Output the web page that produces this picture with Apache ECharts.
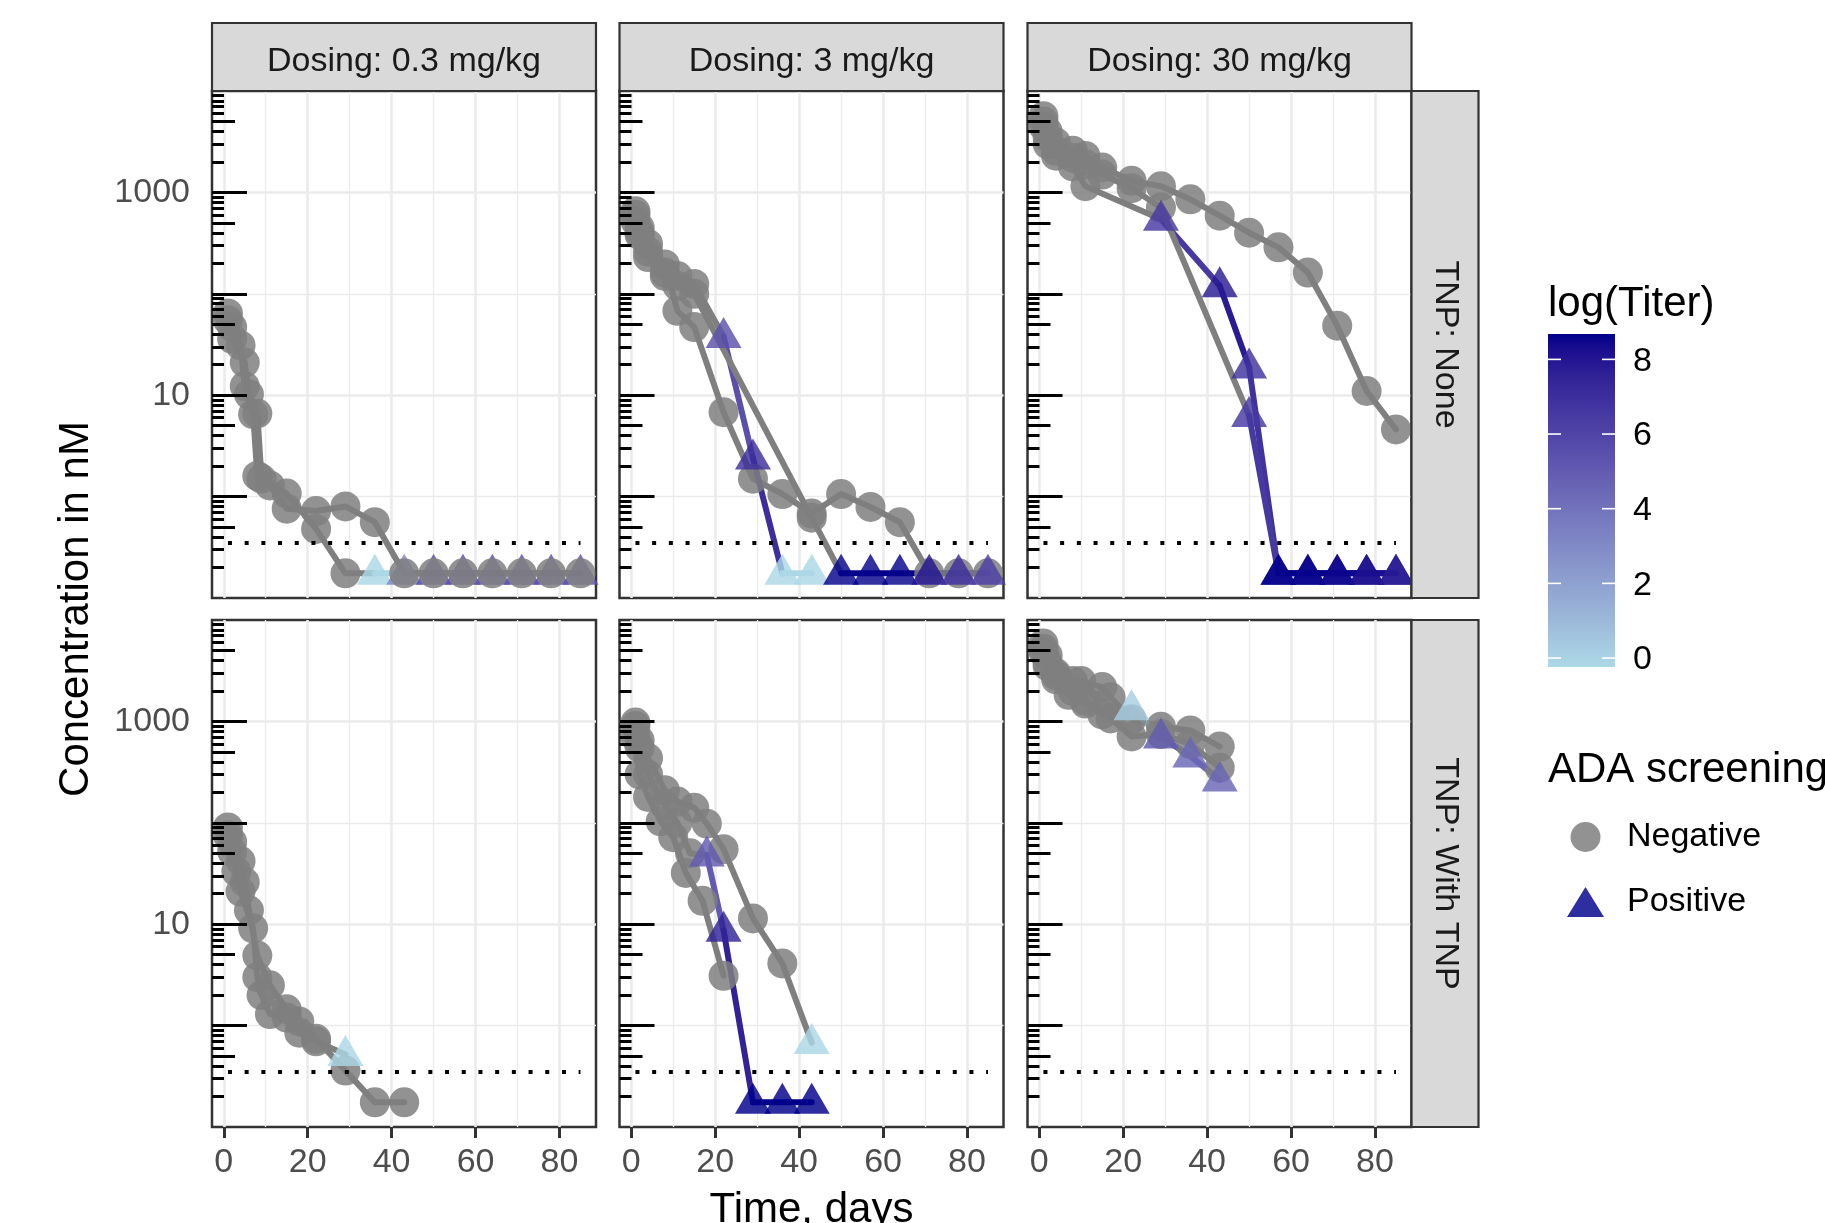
<!DOCTYPE html>
<html><head><meta charset="utf-8">
<script src="https://cdn.jsdelivr.net/npm/echarts@6/dist/echarts.min.js"></script>
<style>html,body{margin:0;padding:0;background:#fff}#c{width:1825px;height:1223px}</style>
</head><body><div id="c"></div>
<script>
// ---------------- data ----------------
const DOSE_LABELS = ['Dosing: 0.3 mg/kg', 'Dosing: 3 mg/kg', 'Dosing: 30 mg/kg'];
const TNP_LABELS = ['TNP: None', 'TNP: With TNP'];
const X_TICKS = [0, 20, 40, 60, 80];
const X_MINOR = [10, 30, 50, 70];
const Y_LABEL_TICKS = [10, 1000];
const Y_MINOR = [1, 100];
const TITER_TICKS = [0, 2, 4, 6, 8];
const LLOQ = 0.35;
const B = 0.175;       // below-LLOQ samples plotted at LLOQ/2
const n = null;        // no titer -> ADA negative

// Dosing 0.3 mg/kg, TNP: None
const a1_day = [1, 2, 4, 5, 7, 8, 15, 22, 29, 36, 43, 50, 57, 64, 71, 78, 85];
const a1_conc = [64, 47, 31, 12.3, 6.5, 1.6, 1.07, 0.48, B, B, B, B, B, B, B, B, B];
const a1_titer = [n, n, n, n, n, n, n, n, n, -0.2, 3.0, 5.5, 5.5, 5.5, 5.5, 5.5, 5.5];
const a2_day = [1, 2, 5, 6, 8, 9, 11, 15, 22, 29, 36, 43, 50, 57, 64, 71, 78, 85];
const a2_conc = [55, 36, 21, 10.2, 6.6, 1.5, 1.29, 0.76, 0.72, 0.80, 0.56, B, B, B, B, B, B, B];
const a2_titer = null;

// Dosing 3 mg/kg, TNP: None
const b1_day = [1, 2, 4, 8, 11, 15, 22, 29, 36, 43, 50, 57, 64, 71, 78, 85];
const b1_conc = [650, 450, 310, 195, 68, 47, 6.8, 1.5, 1.06, 0.68, 1.06, 0.79, 0.56, B, B, B];
const b1_titer = null;
const b2_day = [1, 2, 4, 8, 11, 15, 22, 29, 36, 43];
const b2_conc = [600, 400, 260, 162, 150, 125, 38, 2.4, B, B];
const b2_titer = [n, n, n, n, n, n, 5.5, 7.0, -0.2, -0.2];
const b3_day = [1, 2, 4, 8, 11, 15, 43, 50, 57, 64, 71, 78, 85];
const b3_conc = [520, 380, 230, 150, 120, 100, 0.62, B, B, B, B, B, B];
const b3_titer = [n, n, n, n, n, n, n, 8.6, 8.6, 8.6, 8.0, 7.0, 6.2];

// Dosing 30 mg/kg, TNP: None
const c1_day = [1, 2, 4, 8, 11, 15, 22, 29, 36, 43, 50, 57, 64, 71, 78, 85];
const c1_conc = [5650, 4000, 3100, 2570, 2290, 1760, 1300, 1150, 855, 590, 400, 287, 162, 48.5, 11, 4.6];
const c1_titer = null;
const c2_day = [1, 2, 4, 8, 11, 29, 43, 50, 57, 64, 71, 78, 85];
const c2_conc = [4500, 3000, 2300, 1800, 1150, 545, 120, 19, B, B, B, B, B];
const c2_titer = [n, n, n, n, n, 6.5, 7.8, 6.8, 8.6, 8.6, 8.5, 8.3, 8.0];
const c3_day = [1, 2, 4, 8, 11, 15, 22, 29, 50, 57, 64, 71, 78, 85];
const c3_conc = [5000, 3500, 2570, 2200, 1900, 1500, 1100, 710, 6.3, B, B, B, B, B];
const c3_titer = [n, n, n, n, n, n, n, n, 6.5, 8.6, 8.6, 8.5, 8.2, 7.8];

// Dosing 0.3 mg/kg, TNP: With TNP
const d1_day = [1, 2, 4, 5, 6, 8, 11, 15, 18, 22, 29, 36, 43];
const d1_conc = [90, 65, 42, 26, 13.7, 4.9, 2.5, 1.45, 1.1, 0.74, 0.36, B, B];
const d1_titer = null;
const d2_day = [1, 2, 3, 4, 7, 8, 9, 11, 15, 18, 22, 29];
const d2_conc = [75, 52, 33, 21, 9.1, 3.0, 2.0, 1.3, 1.2, 0.85, 0.7, 0.52];
const d2_titer = [n, n, n, n, n, n, n, n, n, n, n, -0.2];

// Dosing 3 mg/kg, TNP: With TNP
const e1_day = [1, 2, 4, 8, 11, 14, 18, 22, 29, 36, 43];
const e1_conc = [900, 550, 300, 150, 100, 50, 48, 8.7, B, B, B];
const e1_titer = [n, n, n, n, n, n, 5.0, 7.5, 8.7, 8.7, 8.7];
const e2_day = [1, 2, 4, 8, 11, 15, 18, 22, 29, 36, 43];
const e2_conc = [975, 650, 435, 210, 162, 141, 98, 55, 11.4, 4.1, 0.68];
const e2_titer = [n, n, n, n, n, n, n, n, n, n, -0.2];
const e3_day = [1, 2, 4, 7, 10, 13, 17, 22];
const e3_conc = [700, 300, 180, 103, 72, 32, 17, 3.1];
const e3_titer = null;

// Dosing 30 mg/kg, TNP: With TNP
const f1_day = [1, 2, 4, 8, 10, 15, 17, 22, 29, 36, 43];
const f1_conc = [5850, 4500, 3000, 2500, 2500, 2180, 1730, 1050, 885, 815, 565];
const f1_titer = null;
const f2_day = [1, 2, 4, 7, 11, 15, 22, 29, 36, 43];
const f2_conc = [4800, 3500, 2850, 1830, 1500, 1170, 1330, 700, 455, 265];
const f2_titer = [n, n, n, n, n, n, 0.2, 5.0, 4.5, 4.5];
const f3_day = [1, 2, 4, 8, 11, 17, 22, 29, 36, 43];
const f3_conc = [5200, 3800, 2600, 2000, 1600, 1070, 710, 750, 600, 350];
const f3_titer = null;

const PANELS = [
  [[a1_day, a1_conc, a1_titer], [a2_day, a2_conc, a2_titer]],
  [[b1_day, b1_conc, b1_titer], [b2_day, b2_conc, b2_titer], [b3_day, b3_conc, b3_titer]],
  [[c1_day, c1_conc, c1_titer], [c2_day, c2_conc, c2_titer], [c3_day, c3_conc, c3_titer]],
  [[d1_day, d1_conc, d1_titer], [d2_day, d2_conc, d2_titer]],
  [[e1_day, e1_conc, e1_titer], [e2_day, e2_conc, e2_titer], [e3_day, e3_conc, e3_titer]],
  [[f1_day, f1_conc, f1_titer], [f2_day, f2_conc, f2_titer], [f3_day, f3_conc, f3_titer]]
];

// ---------------- styling / layout ----------------
const FONT = "'Liberation Sans', Arial, Helvetica, sans-serif";
const LEFTS = [212, 619.5, 1027.5], W = 384, TOPS = [91, 620], H = 507;
const XMIN = -2.8, XMAX = 88.7, YMIN = 0.1, YMAX = 10000;
const T_MIN = -0.24, T_MAX = 8.68;
const GRAY = '#7f7f7f';
const LOW = '#ADD8E6', HIGH = '#00008B';

// colour scale (Lab interpolation like ggplot2)
function hex2rgb(h) { return [1, 3, 5].map(i => parseInt(h.slice(i, i + 2), 16)); }
function s2l(c) { c /= 255; return c <= 0.04045 ? c / 12.92 : Math.pow((c + 0.055) / 1.055, 2.4); }
function l2s(c) { c = c <= 0.0031308 ? 12.92 * c : 1.055 * Math.pow(c, 1 / 2.4) - 0.055; return Math.round(Math.max(0, Math.min(1, c)) * 255); }
function rgb2lab(rgb) {
  const [r, g, b] = rgb.map(s2l);
  const X = (0.4124 * r + 0.3576 * g + 0.1805 * b) / 0.95047, Y = 0.2126 * r + 0.7152 * g + 0.0722 * b, Z = (0.0193 * r + 0.1192 * g + 0.9505 * b) / 1.08883;
  const f = t => t > 0.008856 ? Math.cbrt(t) : 7.787 * t + 16 / 116;
  const fx = f(X), fy = f(Y), fz = f(Z);
  return [116 * fy - 16, 500 * (fx - fy), 200 * (fy - fz)];
}
function lab2hex(lab) {
  const [L, a, b] = lab; const fy = (L + 16) / 116, fx = fy + a / 500, fz = fy - b / 200;
  const fi = t => t * t * t > 0.008856 ? t * t * t : (t - 16 / 116) / 7.787;
  const X = fi(fx) * 0.95047, Y = fi(fy), Z = fi(fz) * 1.08883;
  const r = 3.2406 * X - 1.5372 * Y - 0.4986 * Z, g = -0.9689 * X + 1.8758 * Y + 0.0415 * Z, bb = 0.0557 * X - 0.2040 * Y + 1.0570 * Z;
  return '#' + [r, g, bb].map(v => l2s(v).toString(16).padStart(2, '0')).join('');
}
const LAB_LO = rgb2lab(hex2rgb(LOW)), LAB_HI = rgb2lab(hex2rgb(HIGH));
function titerColor(t) {
  const f = Math.max(0, Math.min(1, (t - T_MIN) / (T_MAX - T_MIN)));
  return lab2hex(LAB_LO.map((v, i) => v + (LAB_HI[i] - v) * f));
}

function logtickValues(mults) {
  const out = [];
  for (let e = -1; e <= 3; e++) for (const m of mults) {
    const v = +(m * Math.pow(10, e)).toPrecision(6);
    if (v > YMIN && v < YMAX) out.push(v);
  }
  return out;
}
const LT_DECADE = logtickValues([1]);
const LT_FIVE = logtickValues([5]);
const LT_OTHER = logtickValues([2, 3, 4, 6, 7, 8, 9]);

const grids = [], xAxes = [], yAxes = [], series = [];
PANELS.forEach((subjects, k) => {
  const r = Math.floor(k / 3), c = k % 3;
  grids.push({ left: LEFTS[c], top: TOPS[r], width: W, height: H, show: true, backgroundColor: '#fff', borderColor: '#333', borderWidth: 2.5, containLabel: false, outerBoundsMode: 'none' });
  const xi = xAxes.length;
  xAxes.push({
    type: 'value', gridIndex: k, position: 'bottom', min: XMIN, max: XMAX, axisLine: { show: false },
    axisTick: { show: r === 1, customValues: X_TICKS, length: 11, lineStyle: { color: '#333', width: 3 } },
    axisLabel: { show: r === 1, customValues: X_TICKS, margin: 19, fontSize: 34, color: '#4d4d4d', fontFamily: FONT },
    splitLine: { show: true, lineStyle: { color: '#ebebeb', width: 2.6 } },
    name: (r === 1 && c === 1) ? 'Time, days' : '', nameLocation: 'middle', nameGap: 62, nameMoveOverlap: false,
    nameTextStyle: { fontSize: 42, color: '#000', fontFamily: FONT }
  });
  xAxes.push({
    type: 'value', gridIndex: k, position: 'bottom', min: XMIN, max: XMAX, axisLine: { show: false },
    axisTick: { show: false, customValues: X_MINOR }, axisLabel: { show: false, customValues: X_MINOR },
    splitLine: { show: true, lineStyle: { color: '#ebebeb', width: 1.3 } }
  });
  const yi = yAxes.length;
  const yb = () => ({ type: 'log', logBase: 10, gridIndex: k, position: 'left', offset: 0, min: YMIN, max: YMAX, axisLine: { show: false } });
  yAxes.push(Object.assign(yb(), {
    axisTick: { show: c === 0, customValues: Y_LABEL_TICKS, length: 11, lineStyle: { color: '#333', width: 3 } },
    axisLabel: { show: c === 0, customValues: Y_LABEL_TICKS, formatter: v => String(v), margin: 22, padding: [8, 0, 0, 0], fontSize: 34, color: '#4d4d4d', fontFamily: FONT },
    splitLine: { show: true, lineStyle: { color: '#ebebeb', width: 2.6 } }
  }));
  yAxes.push(Object.assign(yb(), {
    axisTick: { show: false, customValues: Y_MINOR }, axisLabel: { show: false, customValues: Y_MINOR },
    splitLine: { show: true, lineStyle: { color: '#ebebeb', width: 1.3 } }
  }));
  [[LT_DECADE, 35], [LT_FIVE, 23], [LT_OTHER, 12]].forEach(([vals, len]) => yAxes.push(Object.assign(yb(), {
    z: 10,
    axisTick: { show: true, inside: true, length: len, customValues: vals, lineStyle: { color: '#000', width: 3 } },
    axisLabel: { show: false, customValues: vals }, splitLine: { show: false }
  })));

  const linesData = [], negData = [], posData = [];
  subjects.forEach(([days, conc, titer]) => {
    const col = i => (titer && titer[i] != null) ? titerColor(titer[i]) : GRAY;
    let run = [[days[0], conc[0]]], runCol = col(0);
    for (let i = 0; i < days.length - 1; i++) {
      const cc = col(i);
      if (cc !== runCol) {
        if (run.length > 1) linesData.push({ coords: run, lineStyle: { color: runCol } });
        run = [[days[i], conc[i]]]; runCol = cc;
      }
      run.push([days[i + 1], conc[i + 1]]);
    }
    if (run.length > 1) linesData.push({ coords: run, lineStyle: { color: runCol } });
    days.forEach((d, i) => {
      if (titer && titer[i] != null) posData.push({ value: [d, conc[i]], itemStyle: { color: titerColor(titer[i]) } });
      else negData.push([d, conc[i]]);
    });
  });
  series.push({
    type: 'lines', coordinateSystem: 'cartesian2d', xAxisIndex: xi, yAxisIndex: yi, polyline: true, silent: true, z: 2,
    lineStyle: { width: 6, opacity: 1, cap: 'round', join: 'round' }, data: linesData
  });
  const negZ = k === 0 ? 4 : 3, posZ = k === 0 ? 3 : 4;
  series.push({
    name: 'Negative', type: 'scatter', xAxisIndex: xi, yAxisIndex: yi, z: negZ, symbol: 'circle', symbolSize: 30,
    itemStyle: { color: GRAY, opacity: 0.85 }, data: negData, emphasis: { disabled: true },
    markLine: {
      silent: true, symbol: ['none', 'none'], label: { show: false }, z: 6, animation: false,
      lineStyle: { color: '#000', width: 4, type: [4, 12.7], cap: 'butt' }, emphasis: { disabled: true },
      data: [[{ coord: [1, LLOQ] }, { coord: [85, LLOQ] }]]
    }
  });
  series.push({
    name: 'Positive', type: 'scatter', xAxisIndex: xi, yAxisIndex: yi, z: posZ, symbol: 'triangle', symbolSize: [36, 31], symbolOffset: [0, -4],
    itemStyle: { color: HIGH, opacity: 0.82 }, data: posData, emphasis: { disabled: true }
  });
});

// ---------------- strips, titles, colour bar ----------------
const graphic = [];
DOSE_LABELS.forEach((t, c) => {
  graphic.push({ type: 'rect', z: 20, shape: { x: LEFTS[c], y: 23, width: W, height: 68 }, style: { fill: '#d9d9d9', stroke: '#333', lineWidth: 2.2 } });
  graphic.push({ type: 'text', z: 21, x: LEFTS[c] + W / 2, y: 62, style: { text: t, fontSize: 34, fill: '#1a1a1a', fontFamily: FONT, align: 'center', verticalAlign: 'middle' } });
});
TNP_LABELS.forEach((t, r) => {
  graphic.push({ type: 'rect', z: 20, shape: { x: LEFTS[2] + W, y: TOPS[r], width: 67, height: H }, style: { fill: '#d9d9d9', stroke: '#333', lineWidth: 2.2 } });
  graphic.push({ type: 'text', z: 21, x: LEFTS[2] + W + 33.5, y: TOPS[r] + H / 2, rotation: -Math.PI / 2, style: { text: t, fontSize: 34, fill: '#1a1a1a', fontFamily: FONT, align: 'center', verticalAlign: 'middle' } });
});
graphic.push({ type: 'text', x: 76, y: (TOPS[0] + TOPS[1] + H) / 2, rotation: Math.PI / 2, style: { text: 'Concentration in nM', fontSize: 42, fill: '#000', fontFamily: FONT, align: 'center', verticalAlign: 'middle' } });

const CB_X = 1548, CB_Y = 334, CB_W = 67, CB_H = 333;
graphic.push({ type: 'text', x: CB_X, y: 304, style: { text: 'log(Titer)', fontSize: 42, fill: '#000', fontFamily: FONT, align: 'left', verticalAlign: 'middle' } });
const stops = [];
for (let i = 0; i <= 24; i++) stops.push({ offset: i / 24, color: titerColor(T_MAX - (T_MAX - T_MIN) * i / 24) });
graphic.push({ type: 'rect', shape: { x: CB_X, y: CB_Y, width: CB_W, height: CB_H }, style: { fill: new echarts.graphic.LinearGradient(0, 0, 0, 1, stops) } });
TITER_TICKS.forEach(v => {
  const y = CB_Y + CB_H * (T_MAX - v) / (T_MAX - T_MIN);
  graphic.push({ type: 'line', shape: { x1: CB_X, y1: y, x2: CB_X + 13, y2: y }, style: { stroke: '#fff', lineWidth: 1.6 } });
  graphic.push({ type: 'line', shape: { x1: CB_X + CB_W - 13, y1: y, x2: CB_X + CB_W, y2: y }, style: { stroke: '#fff', lineWidth: 1.6 } });
  graphic.push({ type: 'text', x: CB_X + 85, y: y + 2, style: { text: String(v), fontSize: 34, fill: '#000', fontFamily: FONT, align: 'left', verticalAlign: 'middle' } });
});
graphic.push({ type: 'text', x: CB_X, y: 770, style: { text: 'ADA screening', fontSize: 42, fill: '#000', fontFamily: FONT, align: 'left', verticalAlign: 'middle' } });

const chart = echarts.init(document.getElementById('c'), null, { renderer: 'canvas' });
chart.setOption({
  animation: false,
  backgroundColor: '#fff',
  grid: grids, xAxis: xAxes, yAxis: yAxes, series: series, graphic: graphic,
  legend: {
    data: [{ name: 'Negative', icon: 'circle' }, { name: 'Positive', icon: 'triangle' }],
    orient: 'vertical', left: 1562, top: 815, itemWidth: 37, itemHeight: 30, itemGap: 31, selectedMode: false,
    textStyle: { fontSize: 34, color: '#000', fontFamily: FONT, padding: [0, 0, 0, 18], lineHeight: 34 }
  }
});
</script>
</body></html>
